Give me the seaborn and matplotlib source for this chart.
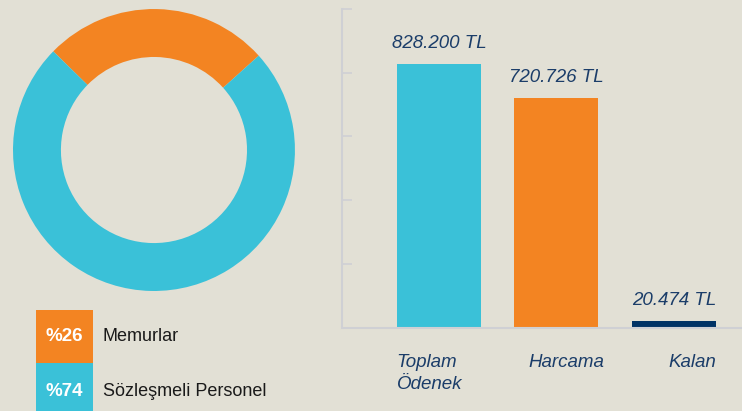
import numpy as np
import matplotlib
matplotlib.use("Agg")
import matplotlib.pyplot as plt
import matplotlib as mpl
from matplotlib.patches import Rectangle
import seaborn as sns

# ------------------ data ------------------
pie_labels = ["Memurlar", "Sözleşmeli Personel"]
pie_values = [26, 74]

bar_categories = ["Toplam\nÖdenek", "Harcama", "Kalan"]
bar_values = [828200, 720726, 20474]

# ------------------ style ------------------
BG = "#e2e0d5"
ORANGE = "#f38422"
CYAN = "#3ac1d8"
NAVY = "#003366"
TEXT_NAVY = "#1b3d69"
GRID = "#cfd0d4"

sns.set_style("white")
mpl.rcParams["font.family"] = ["Liberation Sans", "DejaVu Sans"]

fig = plt.figure(figsize=(7.42, 4.11), dpi=100, facecolor=BG)

# ------------------ donut ------------------
ax_pie = fig.add_axes([0.0175, 0.292, 0.380, 0.686])
ax_pie.set_facecolor(BG)
ax_pie.pie(pie_values, colors=[ORANGE, CYAN], startangle=42, counterclock=True,
           radius=1.0, wedgeprops=dict(width=0.34, edgecolor="none"))
ax_pie.set_xlim(-1, 1)
ax_pie.set_ylim(-1, 1)
ax_pie.set_aspect("equal")
ax_pie.axis("off")

# legend boxes
box_colors = [ORANGE, CYAN]
box_y = [0.1168, -0.01]
box_h = [0.129, 0.127]
for lab, val, col, y0, h in zip(pie_labels, pie_values, box_colors, box_y, box_h):
    fig.add_artist(Rectangle((0.0485, y0), 0.0768, h, transform=fig.transFigure,
                             facecolor=col, edgecolor="none"))
    yc = y0 + h / 2 if y0 > 0 else (411 - 391) / 411
    fig.text(0.0485 + 0.0768 / 2, yc, f"%{val}", color="white", fontsize=13.5,
             fontweight="bold", ha="center", va="center")
    fig.text(103 / 742, yc, lab, color="#1a1a1a", fontsize=13, ha="left", va="center")

# ------------------ bars ------------------
ax = fig.add_axes([0.461, 0.203, 0.539, 0.775])
ax.set_facecolor(BG)
x = np.arange(len(bar_values))
sns.barplot(x=x, y=bar_values, hue=x, palette=[CYAN, ORANGE, NAVY], saturation=1,
            width=0.715, legend=False, ax=ax, native_scale=True, linewidth=0,
            edgecolor="none")
ax.set_xlim(-0.826, 2.58)
ax.set_ylim(0, 1000000)
ax.set_yticks(np.arange(0, 1000001, 200000))
ax.set_yticklabels([])
ax.set_xticks([])
ax.tick_params(axis="y", direction="in", length=7, width=1.2, color=GRID, left=True)
for side in ["top", "right"]:
    ax.spines[side].set_visible(False)
for side in ["left", "bottom"]:
    ax.spines[side].set_color(GRID)
    ax.spines[side].set_linewidth(1.5)
ax.set_xlabel("")
ax.set_ylabel("")

# value labels on top of bars
labels = [f"{v:,}".replace(",", ".") + " TL" for v in bar_values]
bars = sorted([p for p in ax.patches if p.get_height() > 0], key=lambda p: p.get_x())
for p, lab in zip(bars, labels):
    ax.annotate(lab, (p.get_x() + p.get_width() / 2, p.get_height()),
                xytext=(0, 8.5), textcoords="offset points", ha="center", va="bottom",
                fontsize=13.5, style="italic", color=TEXT_NAVY)

# category labels under the bars
label_offsets = [(-0.36, "left"), (0.08, "center"), (0.36, "right")]
for xi, cat, (dx, ha) in zip(x, bar_categories, label_offsets):
    ax.text(xi + dx, -0.083, cat, transform=ax.get_xaxis_transform(), ha=ha, va="top",
            fontsize=13.5, style="italic", color=TEXT_NAVY, linespacing=1.4)

fig.savefig("out.png", dpi=100, facecolor=BG)
